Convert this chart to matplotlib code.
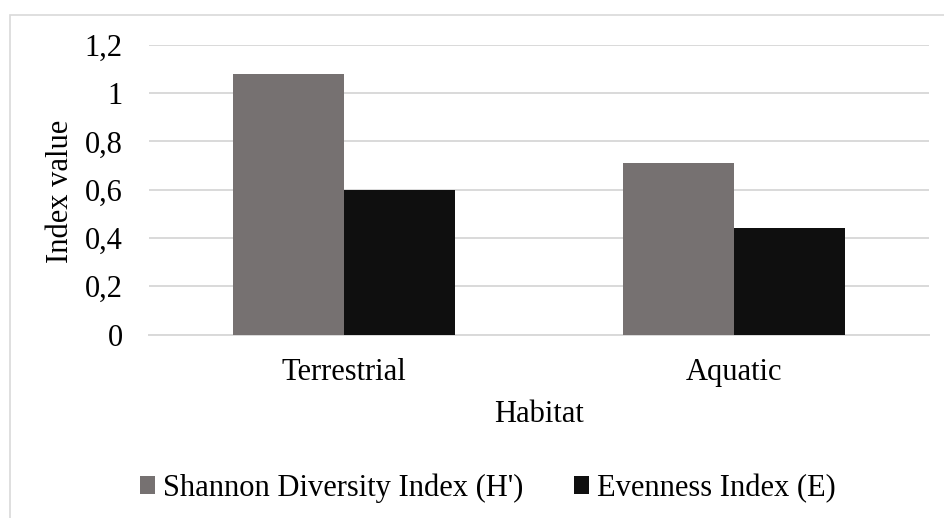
import matplotlib
matplotlib.use("Agg")
import matplotlib.pyplot as plt
import numpy as np
from matplotlib.patches import Rectangle
from matplotlib.ticker import FuncFormatter

habitats = ["Terrestrial", "Aquatic"]
shannon = [1.08, 0.71]
evenness = [0.60, 0.44]
series_names = ["Shannon Diversity Index (H')", "Evenness Index (E)"]
y_ticks = [0, 0.2, 0.4, 0.6, 0.8, 1.0, 1.2]

W, H, DPI = 944, 518, 100
GRAY, BLACK, GRID = "#767171", "#0f0f0f", "#d9d9d9"
FS = 22

plt.rcParams["font.family"] = ["Liberation Serif", "DejaVu Serif"]

fig = plt.figure(figsize=(W / DPI, H / DPI), dpi=DPI, facecolor="white")

# chart area frame (left and top edges visible)
fig.patches.append(Rectangle((10 / W, -0.1), 1.2, 1.1 - 15 / H,
                             transform=fig.transFigure, fill=False,
                             edgecolor=GRID, linewidth=1.2))

ax = fig.add_axes([149 / W, 1 - 334.5 / H, 780 / W, 289.5 / H])

x = np.arange(len(habitats))
w = 111.4 / 390
ax.bar(x - w / 2, shannon, width=w, color=GRAY, label=series_names[0], zorder=3)
ax.bar(x + w / 2, evenness, width=w, color=BLACK, label=series_names[1], zorder=3)

ax.set_xlim(-0.5, len(habitats) - 0.5)
ax.set_ylim(0, 1.2)
ax.set_yticks(y_ticks)
ax.yaxis.set_major_formatter(FuncFormatter(lambda v, _: f"{v:g}".replace(".", ",")))
ax.set_xticks(x)
ax.set_xticklabels(habitats)

ax.grid(axis="y", color=GRID, linewidth=1.4, zorder=0)
for side in ("top", "right", "left"):
    ax.spines[side].set_visible(False)
ax.spines["bottom"].set_color(GRID)
ax.spines["bottom"].set_linewidth(1.4)
ax.tick_params(axis="both", length=0, labelsize=FS, colors="black")
ax.tick_params(axis="y", pad=19)
ax.tick_params(axis="x", pad=17)

fig.text(61 / W, 1 - 191 / H, "Index value", rotation=90, ha="center",
         va="center", fontsize=FS)
fig.text(539 / W, 1 - 422 / H, "Habitat", ha="center", va="baseline",
         fontsize=FS)

fig.legend(loc="center", bbox_to_anchor=(487.5 / W, 1 - 488 / H), ncol=2,
           frameon=False, fontsize=FS, handlelength=0.52, handleheight=0.52,
           handletextpad=0.24, columnspacing=1.65, borderpad=0)

fig.savefig("out.png", dpi=DPI, facecolor="white")
